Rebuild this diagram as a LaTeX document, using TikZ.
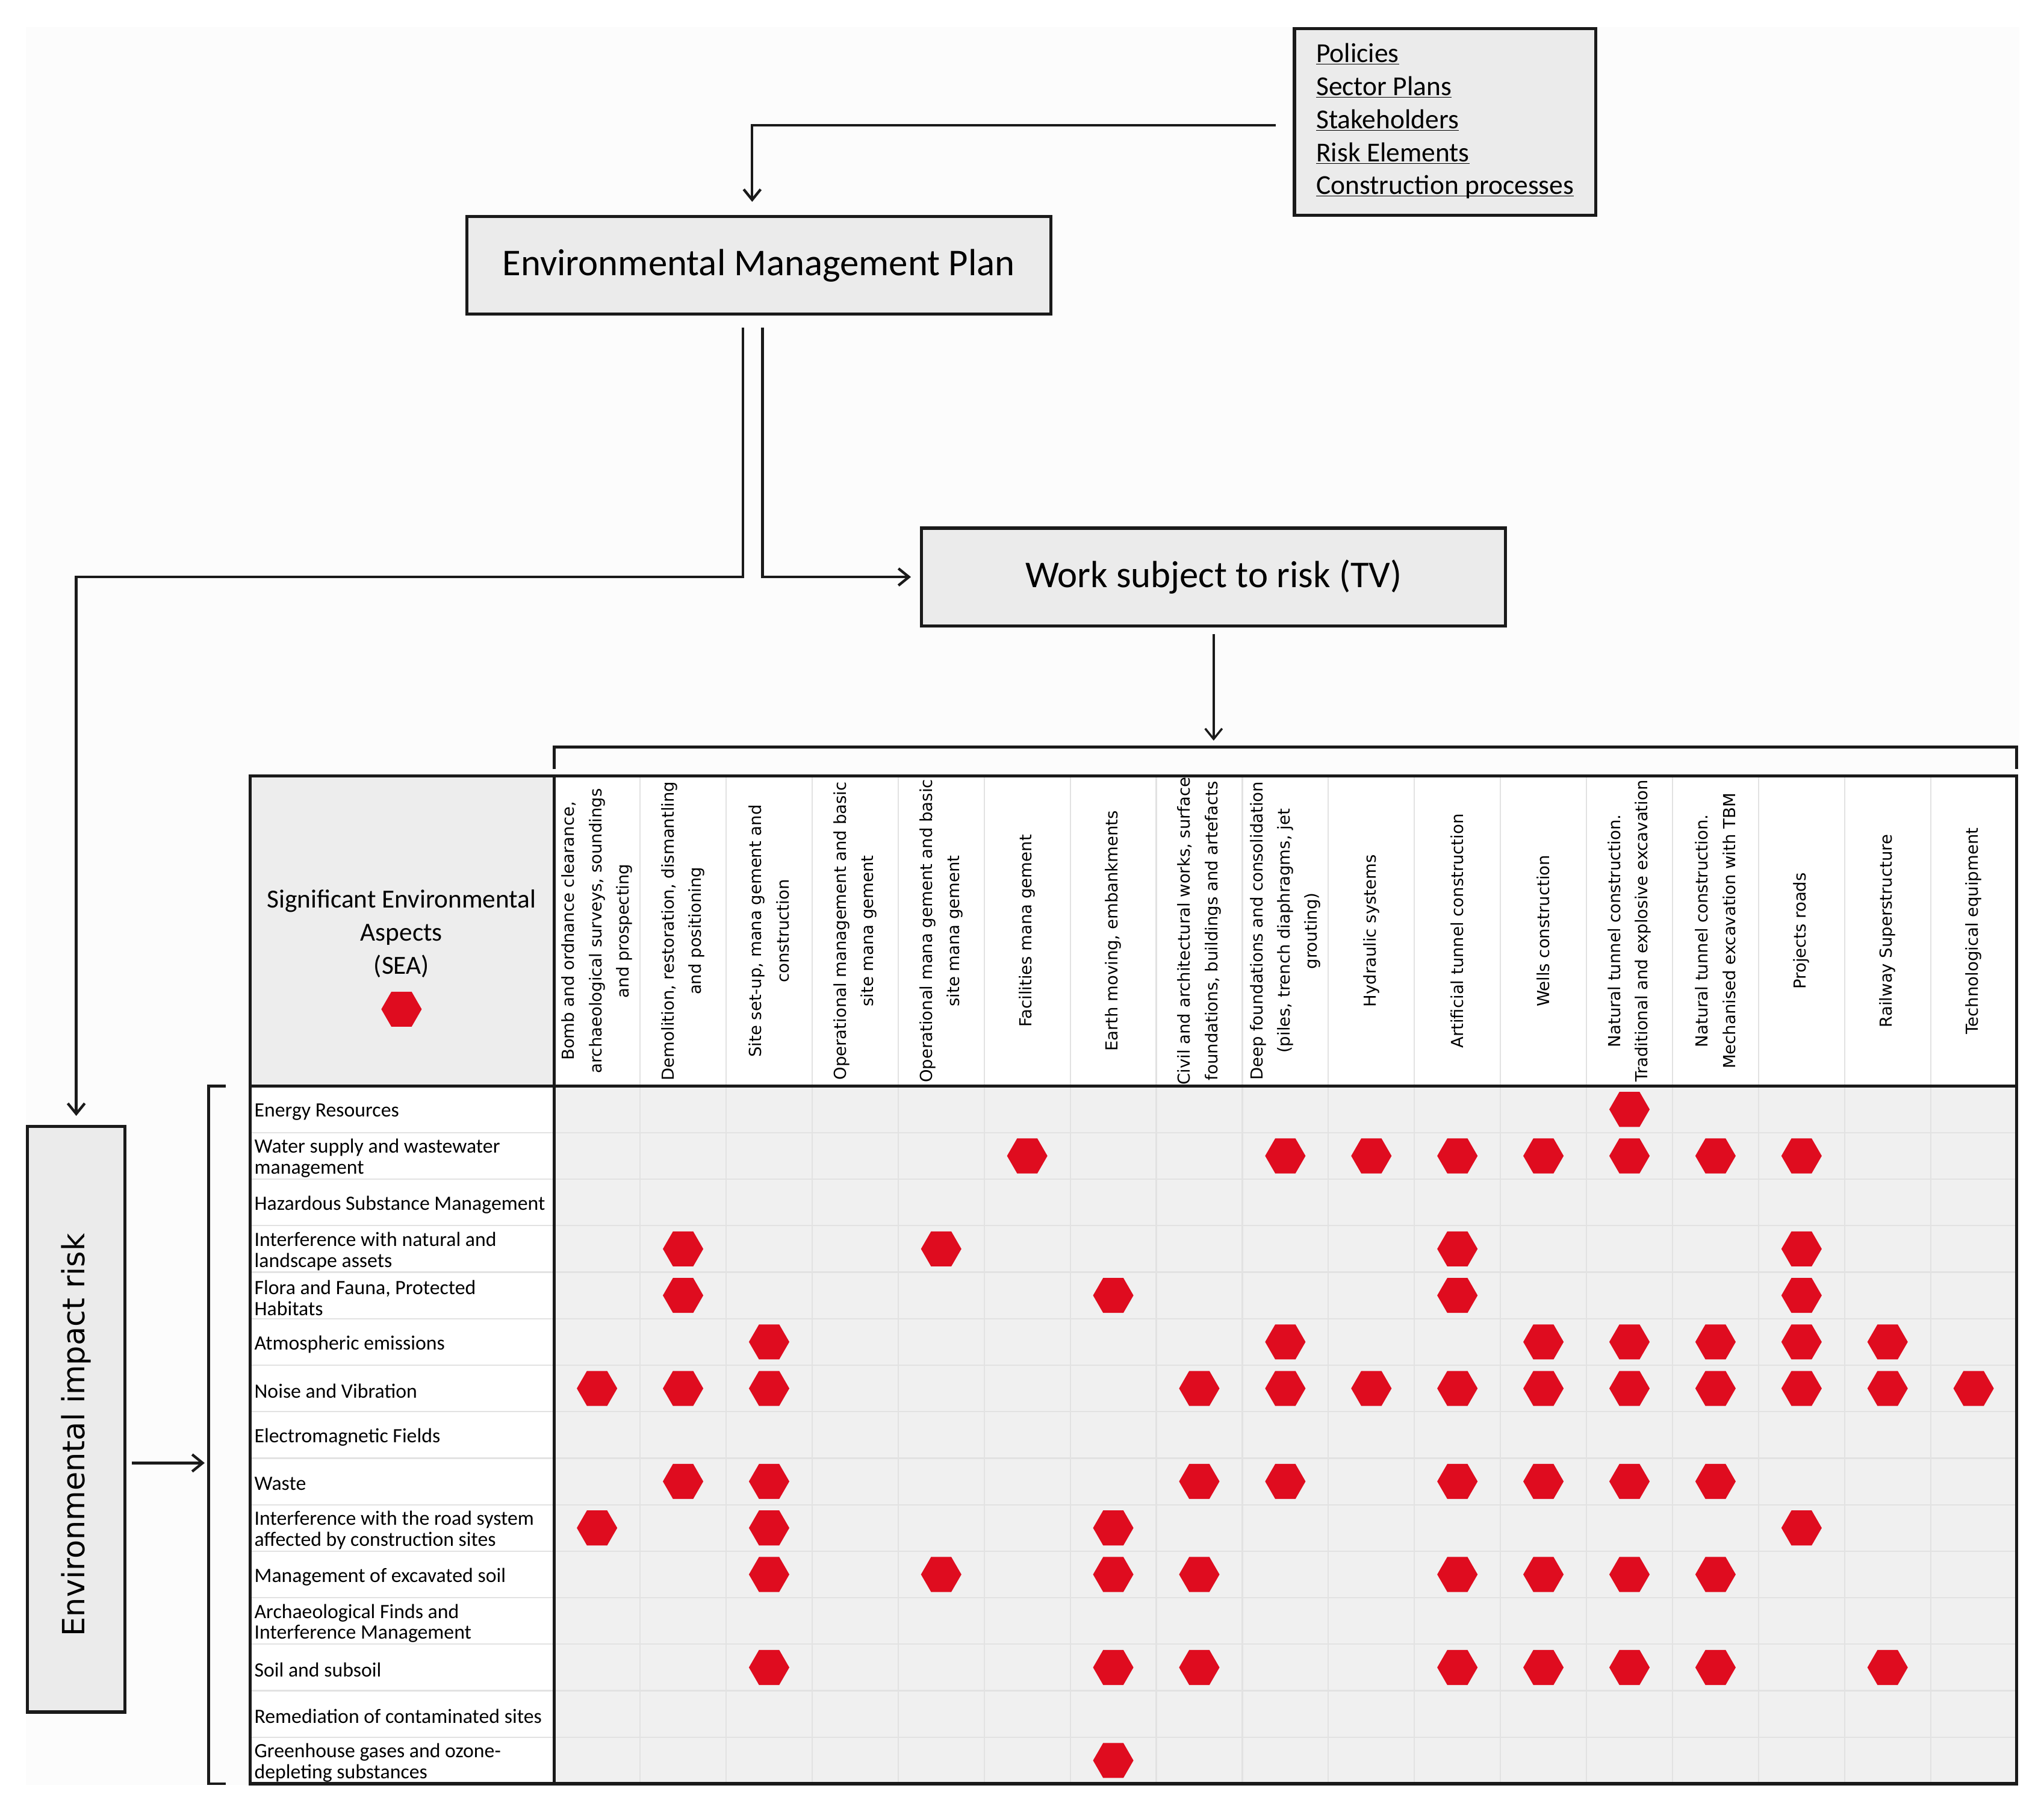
\documentclass[tikz,border=0pt]{standalone}
\usepackage{fontspec}
\setmainfont{Carlito}
\newfontfamily\dejavu{DejaVu Sans}
\usepackage{graphicx}
\usepackage{tikz}
\usetikzlibrary{shapes.geometric,arrows.meta,positioning}

\definecolor{boxgray}{HTML}{EBEBEB}
\definecolor{headgray}{HTML}{EDEDED}
\definecolor{cellgray}{HTML}{F0F0F0}
\definecolor{gridgray}{HTML}{E2E2E2}
\definecolor{hexred}{HTML}{DF0C1F}
\definecolor{linegray}{HTML}{1A1A1A}

\newcommand{\uword}[1]{\underline{\smash{#1}}}

\begin{document}
\begin{tikzpicture}[
    x=1pt, y=-1pt,
    box/.style={rectangle, draw=linegray, line width=2.4pt, fill=boxgray, minimum width=448pt, minimum height=75pt, font=\fontsize{29}{33}\selectfont},
    link/.style={draw=linegray, line width=2pt, -{Straight Barb[length=8pt,width=13pt]}},
    hexa/.style={regular polygon, regular polygon sides=6, minimum size=31pt, inner sep=0pt, fill=hexred},
    aspect/.style={anchor=west, align=left, inner sep=0pt, font=\fontsize{15.6}{16}\selectfont},
    work/.style={rotate=90, align=center, inner sep=0pt, font=\dejavu\fontsize{12.7}{21}\selectfont},
]
\useasboundingbox (0,0) rectangle (1568,1385);
\fill[black!1] (20,21) rectangle (1549,1369);

% table cells
\fill[white] (192,595) rectangle (1547,1368);
\fill[headgray] (192,595) rectangle (425,833);
\fill[cellgray] (425,833) rectangle (1547,1368);
\foreach \c in {1,...,16}
    \draw[gridgray, line width=1pt] ({425+66*\c},595) -- ({425+66*\c},1368);
\foreach \r in {1,...,14}
    \draw[gridgray, line width=1pt] (192,{833+535/15*\r}) -- (1547,{833+535/15*\r});
\draw[linegray, line width=2.4pt] (192,595) rectangle (1547,1368);
\draw[linegray, line width=2.4pt] (192,833) -- (1547,833);
\draw[linegray, line width=2.4pt] (425,595) -- (425,1368);

% boxes
\node[box, minimum width=231pt, minimum height=143pt, align=left, font=\fontsize{21}{25.3}\selectfont] (inputs) at (1108.5,93.5)
    {\rule{0pt}{12pt}\uword{Policies}\\ \uword{Sector Plans}\\ \uword{Stakeholders}\\ \uword{Risk Elements}\\ \uword{Construction processes}};
\node[box] (emp) at (582,203.5) {Environmental Management Plan};
\node[box] (tv) at (931,442.5) {Work subject to risk (TV)};
\node[box, minimum width=75pt, minimum height=449pt, font=\dejavu\fontsize{23.5}{26}\selectfont] (eir) at (58.5,1088.5)
    {\rotatebox{90}{Environmental impact risk\hspace*{24pt}}};

% brackets
\coordinate (worksbrace) at (931,573);
\coordinate (aspectbrace) at (160,1122);
\draw[linegray, line width=2.2pt] (425,590) -- (425,573) -- (1547,573) -- (1547,590);
\draw[linegray, line width=2.2pt] (173,833) -- (160,833) -- (160,1368) -- (173,1368);

% connectors
\draw[link, shorten >=10pt] ([xshift=-13pt,yshift=-2.5pt]inputs.west) -| ([xshift=-5pt]emp.north);
\draw[link, shorten >=7pt] ([xshift=-12pt,yshift=-9pt]emp.south) |- (eir.north |- tv.west) -- (eir.north);
\draw[link, shorten >=7pt] ([xshift=3pt,yshift=-9pt]emp.south) |- (tv.west);
\draw[link, line width=1.6pt, shorten <=5pt, shorten >=5pt] (tv.south) -- (worksbrace);
\draw[link, shorten <=4pt, shorten >=3pt] (eir.east |- aspectbrace) -- (aspectbrace);

% header
\node[align=center, font=\fontsize{20}{25.5}\selectfont] (seahead) at (308,716) {Significant Environmental\\ Aspects\\ (SEA)};
\node[hexa] (sealegend) at (308,774) {};

\foreach \c/\txt in {
    1/{Bomb and ordnance clearance,\\ archaeological surveys, soundings\\ and prospecting},
    2/{Demolition, restoration, dismantling\\ and positioning},
    3/{Site set-up, mana gement and\\ construction},
    4/{Operational management and basic\\ site mana gement},
    5/{Operational mana gement and basic\\ site mana gement},
    6/{Facilities mana gement},
    7/{Earth moving, embankments},
    8/{Civil and architectural works, surface\\ foundations, buildings and artefacts},
    9/{Deep foundations and consolidation\\ (piles, trench diaphragms, jet\\ grouting)},
    10/{Hydraulic systems},
    11/{Artificial tunnel construction},
    12/{Wells construction},
    13/{Natural tunnel construction.\\ Traditional and explosive excavation},
    14/{Natural tunnel construction.\\ Mechanised excavation with TBM},
    15/{Projects roads},
    16/{Railway Superstructure},
    17/{Technological equipment}}
    \node[work] (work-\c) at ({392+66*\c},714) {\txt};

\foreach \r/\txt in {
    1/{Energy Resources},
    2/{Water supply and wastewater\\ management},
    3/{Hazardous Substance Management},
    4/{Interference with natural and\\ landscape assets},
    5/{Flora and Fauna, Protected\\ Habitats},
    6/{Atmospheric emissions},
    7/{Noise and Vibration},
    8/{Electromagnetic Fields},
    9/{Waste},
    10/{Interference with the road system\\ affected by construction sites},
    11/{Management of excavated soil},
    12/{Archaeological Finds and\\ Interference Management},
    13/{Soil and subsoil},
    14/{Remediation of contaminated sites},
    15/{Greenhouse gases and ozone-\\ depleting substances}}
    \node[aspect] (aspect-\r) at (195,{817+535/15*\r}) {\txt};

% risk marks
\foreach \r/\cols in {1/{13}, 2/{6,9,10,11,12,13,14,15}, 4/{2,5,11,15}, 5/{2,7,11,15},
    6/{3,9,12,13,14,15,16}, 7/{1,2,3,8,9,10,11,12,13,14,15,16,17}, 9/{2,3,8,9,11,12,13,14},
    10/{1,3,7,15}, 11/{3,5,7,8,11,12,13,14}, 13/{3,7,8,11,12,13,14,16}, 15/{7}}
    \foreach \c in \cols
        \node[hexa] (risk-\r-\c) at ({392+66*\c},{815.17+535/15*\r}) {};
\end{tikzpicture}
\end{document}
